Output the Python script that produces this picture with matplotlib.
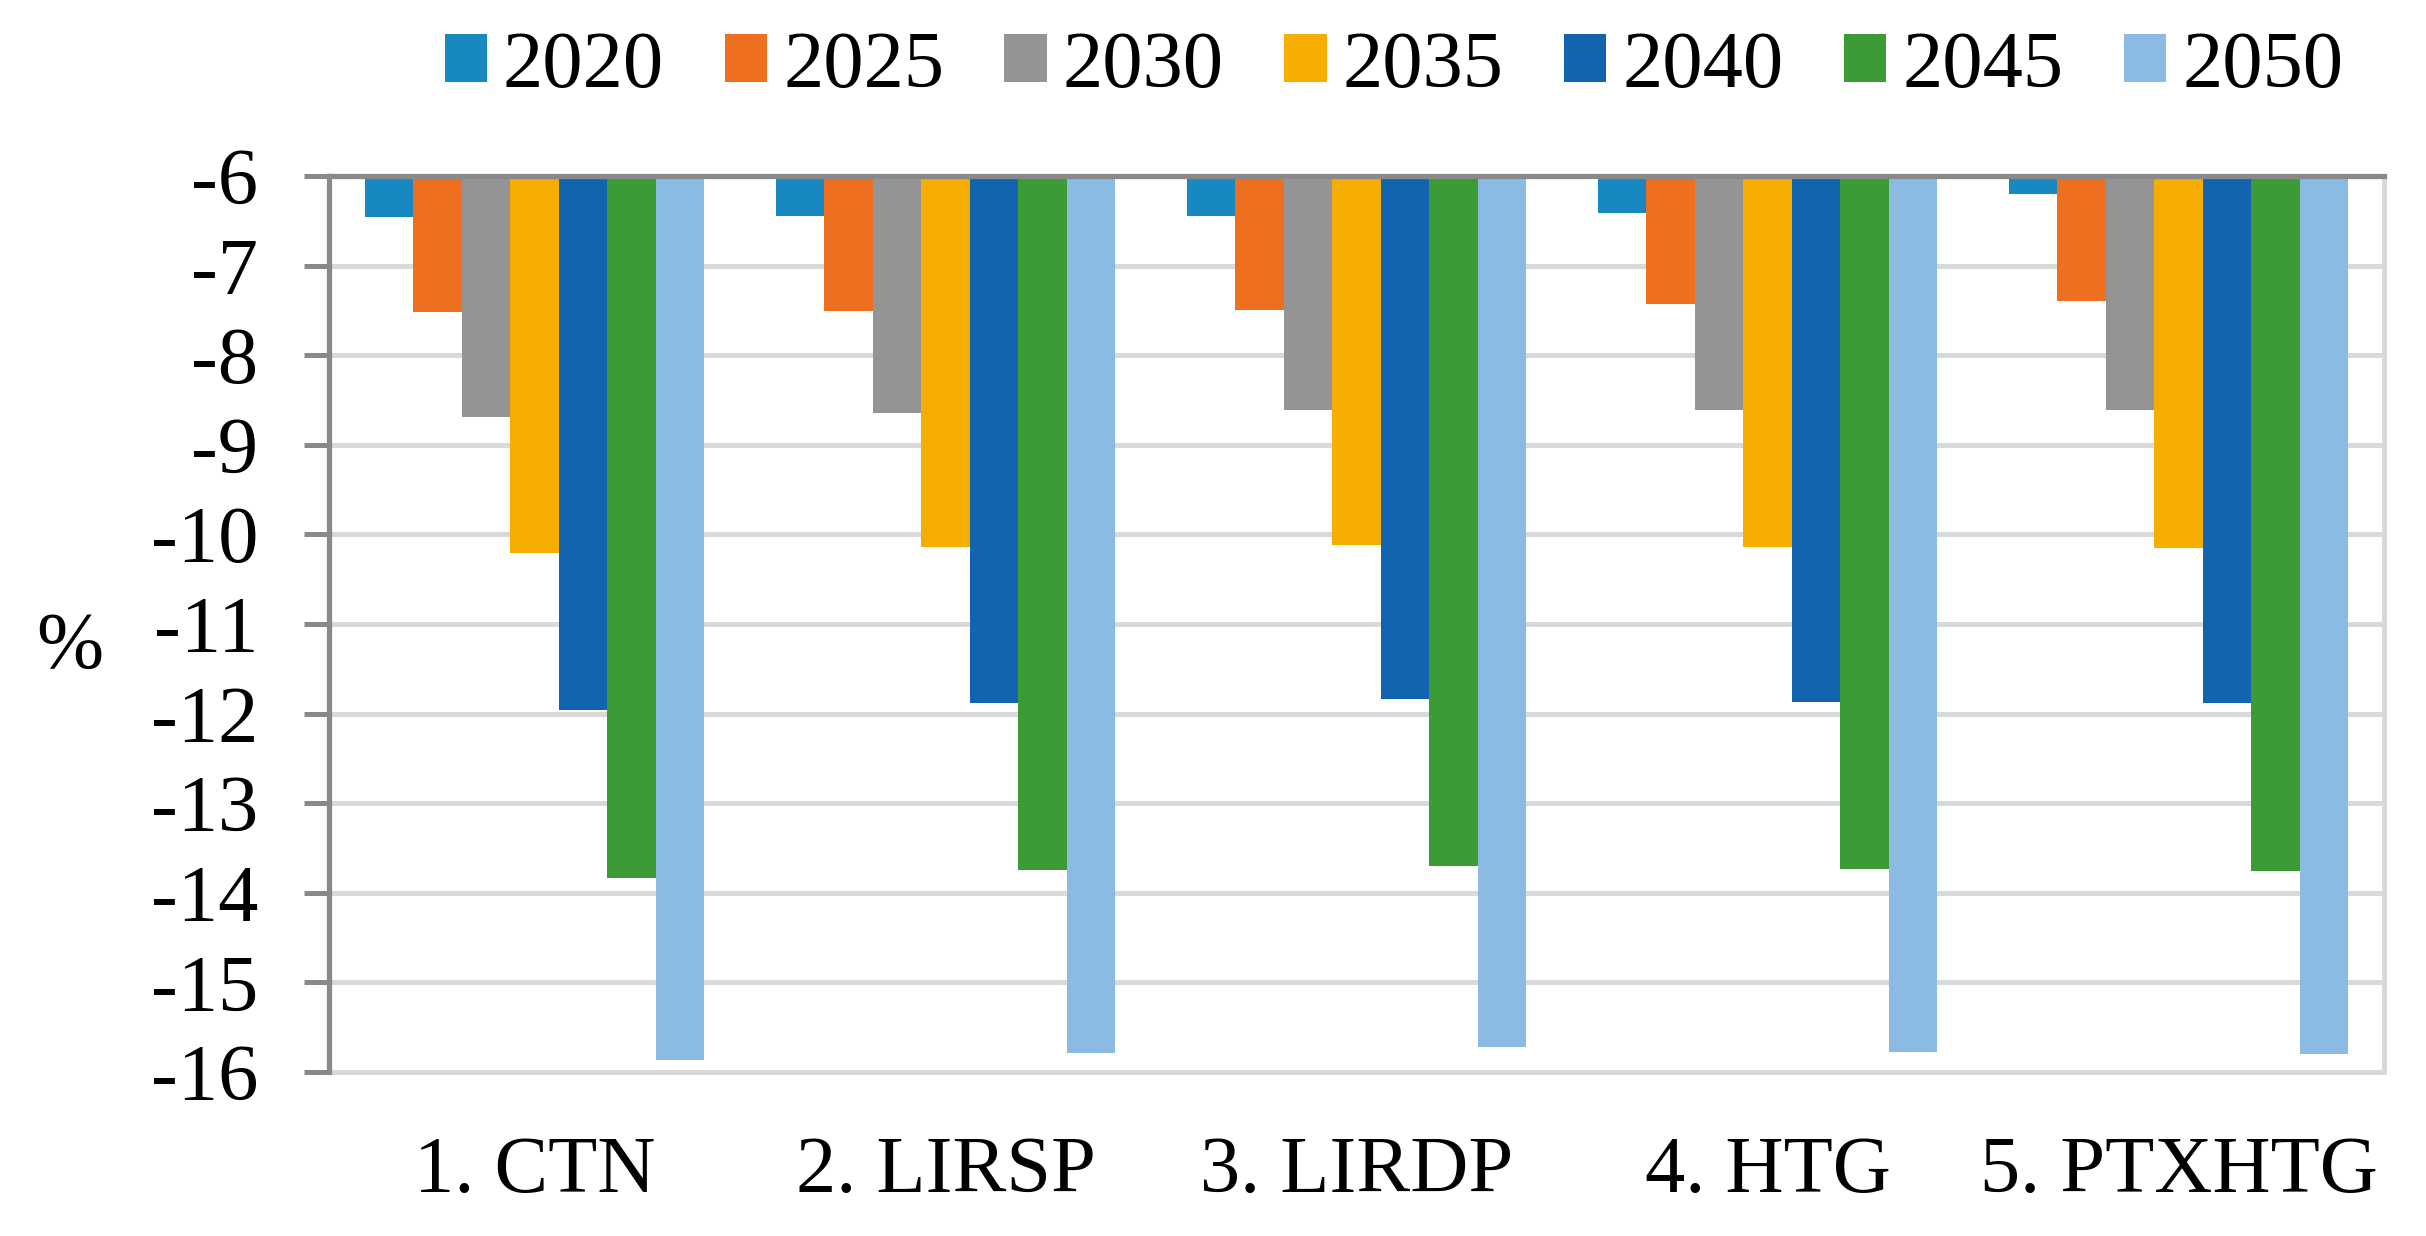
import matplotlib
matplotlib.use("Agg")
import matplotlib.pyplot as plt
from matplotlib.patches import Patch
import numpy as np

categories = ["1. CTN", "2. LIRSP", "3. LIRDP", "4. HTG", "5. PTXHTG"]
years = ["2020", "2025", "2030", "2035", "2040", "2045", "2050"]
v2020 = [-6.46, -6.45, -6.45, -6.41, -6.20]
v2025 = [-7.52, -7.51, -7.50, -7.43, -7.39]
v2030 = [-8.69, -8.64, -8.61, -8.61, -8.61]
v2035 = [-10.21, -10.14, -10.12, -10.14, -10.15]
v2040 = [-11.96, -11.88, -11.84, -11.87, -11.88]
v2045 = [-13.83, -13.75, -13.70, -13.73, -13.76]
v2050 = [-15.87, -15.79, -15.72, -15.78, -15.80]
series = [v2020, v2025, v2030, v2035, v2040, v2045, v2050]
colors = ["#1789c0", "#ee6f20", "#949494", "#f4ad00", "#1263b0", "#3b9b34", "#8bbae2"]
yticks = list(range(-16, -5))

plt.rcParams['font.family'] = ['Liberation Serif', 'DejaVu Serif']
FS = 58

fig = plt.figure(figsize=(24.26, 12.36), dpi=100)
ax = fig.add_axes([329/2426, 1-1072/1236, (2384-329)/2426, (1072-176)/1236])

x = np.arange(len(categories))
w = 0.118
base = -6
for i, (vals, c) in enumerate(zip(series, colors)):
    heights = [v - base for v in vals]
    ax.bar(x + (i - 3) * w, heights, width=w, bottom=base, color=c, zorder=2, label=years[i])

ax.set_xlim(-0.5, len(categories) - 0.5)
ax.set_ylim(-16, -6)
ax.set_yticks(yticks)
ax.set_yticklabels([str(t) for t in yticks], fontsize=FS)
ax.set_xticks(x)
ax.set_xticklabels(categories, fontsize=FS)
ax.tick_params(axis='x', length=0, pad=46)
ax.tick_params(axis='y', length=18, width=3.6, color='#898989', pad=33, direction='out')

ax.yaxis.grid(True, color='#d9d9d9', linewidth=3.6, zorder=0)
ax.set_axisbelow(True)
for s in ['left', 'top']:
    ax.spines[s].set_color('#898989')
    ax.spines[s].set_linewidth(3.8)
    ax.spines[s].set_zorder(3)
for s in ['right', 'bottom']:
    ax.spines[s].set_color('#d9d9d9')
    ax.spines[s].set_linewidth(3.6)

fig.text(70/2426, 1-668/1236, '%', fontsize=FS, ha='center', va='baseline')

handles = [Patch(facecolor=c, edgecolor='none') for c in colors]
fig.legend(handles, years, loc='center', bbox_to_anchor=(1394/2426, 1-67/1236), ncol=7,
           frameon=False, fontsize=FS, handlelength=0.525, handleheight=0.525,
           handletextpad=0.2, columnspacing=0.75, borderpad=0, borderaxespad=0)

fig.savefig("out.png", dpi=100, facecolor='white')
